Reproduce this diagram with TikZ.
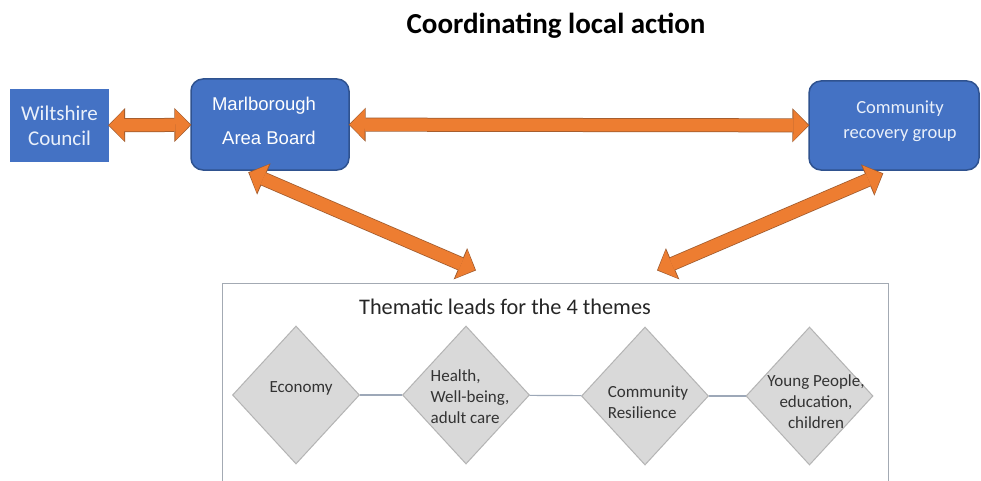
\documentclass[tikz,border=0pt]{standalone}
\usepackage{fontspec}
\setmainfont{Carlito}
\newfontfamily\arialf{Liberation Sans}
\usetikzlibrary{shapes.geometric,arrows.meta}
\definecolor{boxblue}{HTML}{4472C4}
\definecolor{boxedge}{HTML}{2F528F}
\definecolor{arrfill}{HTML}{ED7D31}
\definecolor{arredge}{HTML}{9E5A2E}
\definecolor{dfill}{HTML}{D9D9D9}
\definecolor{dedge}{HTML}{B4B4B4}
\definecolor{lgray}{HTML}{A3AAB3}
\definecolor{connc}{HTML}{9DA8B8}
\definecolor{boxtext}{HTML}{EAF0FA}
\definecolor{dtextc}{HTML}{333333}
\begin{document}
\begin{tikzpicture}[x=1pt,y=1pt,
  bluebox/.style={fill=boxblue, inner sep=0pt},
  roundbox/.style={bluebox, draw=boxedge, line width=1.5pt, rounded corners=12pt},
  btext/.style={text=boxtext, align=center, inner sep=0pt},
  fat/.style={draw=arrfill, line width=12.5pt,
    {Triangle[length=15pt,width=31pt,line width=0pt]}-{Triangle[length=15pt,width=31pt,line width=0pt]},
    preaction={draw=arredge, line width=14pt, shorten >=-1.1pt, shorten <=-1.1pt,
    {Triangle[length=17pt,width=34pt,line width=0pt]}-{Triangle[length=17pt,width=34pt,line width=0pt]}}},
  diam/.style={diamond, draw=dedge, fill=dfill, line width=1pt, minimum width=127pt, minimum height=138pt, inner sep=0pt},
  dtext/.style={text=dtextc, font=\fontsize{17}{21}\selectfont, inner sep=0pt},
  conn/.style={draw=connc, line width=1.2pt}
]
\useasboundingbox (0,0) rectangle (981,-481);
\clip (0,0) rectangle (981,-481);
\fill[white] (0,0) rectangle (981,-481);

% title
\node[font=\fontsize{29}{33}\selectfont\bfseries] (title) at (556,-26) {Coordinating local action};

% top boxes
\node[bluebox, minimum width=99pt, minimum height=73pt] (wc) at (59.5,-125.5) {};
\node[btext, font=\fontsize{21}{25}\selectfont] (wct) at (59.5,-125.5) {Wiltshire\\Council};

\node[roundbox, minimum width=158pt, minimum height=91pt] (mab) at (270,-124.5) {};
\node[btext, text=white, font=\arialf\fontsize{18.5}{34}\selectfont] (mabt) at (269,-121) {Marlborough\hspace*{10pt}\\Area Board};

\node[roundbox, minimum width=170pt, minimum height=89pt] (crg) at (894,-125.5) {};
\node[btext, font=\fontsize{18.5}{25}\selectfont] (crgt) at (900,-121) {Community\\recovery group};

% arrows
\coordinate (dl) at (475,-270);
\coordinate (dr) at (658,-270);
\draw[fat] (wc) -- (mab);
\draw[fat] (mab) -- (crg);
\draw[fat] ([xshift=59pt,yshift=-2pt]mab.south west) -- (dl);
\draw[fat] ([xshift=74pt,yshift=-3pt]crg.south west) -- (dr);

% themes frame
\node[draw=lgray, line width=1pt, fill=white, minimum width=666pt, minimum height=300pt, anchor=north west, inner sep=0pt] (themes) at (222,-283) {};
\node[text=black!85, font=\fontsize{22.3}{26}\selectfont, inner sep=0pt] (ttl) at (505,-307) {Thematic leads for the 4 themes};

% diamonds
\node[diam] (d1) at (296,-395) {};
\node[diam] (d2) at (466,-395) {};
\node[diam] (d3) at (645,-396) {};
\node[diam] (d4) at (809.5,-396) {};
\draw[conn] (d1) -- (d2);
\draw[conn] (d2) -- (d3);
\draw[conn] (d3) -- (d4);

\node[dtext] (t1) at (301,-388) {Economy};
\node[dtext, align=left] (t2) at (470,-397) {Health,\\Well-being,\\adult care};
\node[dtext, align=left] (t3) at (648,-402) {Community\\Resilience};
\node[dtext, align=center] (t4) at (816,-402) {Young People,\\education,\\children};
\end{tikzpicture}
\end{document}
